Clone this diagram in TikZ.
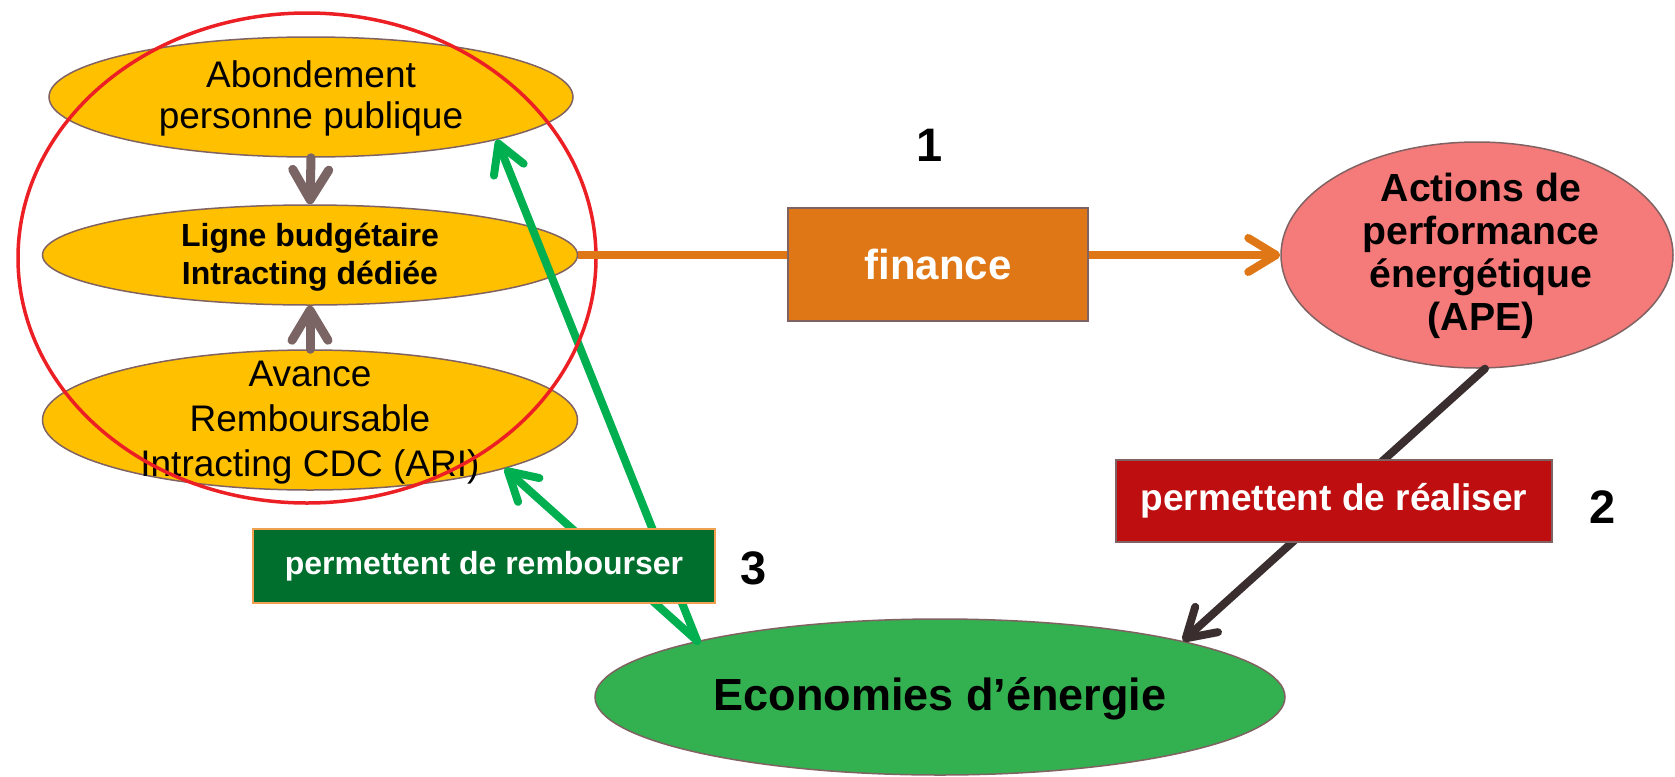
\documentclass[tikz,border=0pt]{standalone}
\usepackage{fontspec}
\setmainfont{Liberation Sans}
\usetikzlibrary{arrows.meta,shapes.geometric}
\definecolor{yel}{RGB}{255,192,0}
\definecolor{ellborder}{RGB}{128,98,98}
\definecolor{grayarr}{RGB}{122,100,100}
\definecolor{orangec}{RGB}{224,119,22}
\definecolor{salmon}{RGB}{245,122,122}
\definecolor{darkarr}{RGB}{58,46,46}
\definecolor{redbox}{RGB}{190,14,16}
\definecolor{greenell}{RGB}{51,176,79}
\definecolor{greenarr}{RGB}{0,176,80}
\definecolor{greenbox}{RGB}{0,110,44}
\definecolor{greenboxborder}{RGB}{240,160,80}
\definecolor{redring}{RGB}{236,32,36}
\tikzset{
  ell/.style={ellipse, draw=ellborder, line width=0.75pt, inner sep=0pt},
  yelell/.style={ell, fill=yel},
  txt/.style={align=center, inner sep=0pt, text=black},
  grayarrow/.style={draw=grayarr, line width=4.5pt, line cap=round,
    -{Straight Barb[length=15pt,width=18pt,round]}},
  orangeline/.style={draw=orangec, line width=4pt,
    -{Straight Barb[length=14pt,width=17pt,round]}},
  greenline/.style={draw=greenarr, line width=4pt, line cap=round,
    -{Straight Barb[length=14pt,width=16pt,round]}},
  darkline/.style={draw=darkarr, line width=4pt, line cap=round,
    -{Straight Barb[length=14pt,width=17pt,round]}},
  numlabel/.style={font=\fontsize{23.5}{26}\selectfont\bfseries, inner sep=0pt},
}
\begin{document}
\begin{tikzpicture}[x=0.5pt,y=-0.5pt]
\useasboundingbox (0,0) rectangle (1675,776);
% left column ellipses
\node[yelell, minimum width=262pt, minimum height=60pt] (abo) at (311,97) {};
\node[yelell, minimum width=267.5pt, minimum height=50pt] (lig) at (310,255) {};
\node[yelell, minimum width=267.5pt, minimum height=70pt] (ava) at (310,420) {};
\node[txt, font=\fontsize{18.5}{20.5}\selectfont] (aboT) at (311,98) {Abondement\\personne publique};
\node[txt, font=\fontsize{16}{19}\selectfont\bfseries] (ligT) at (310,257) {Ligne budgétaire\\Intracting dédiée};
\node[txt, font=\fontsize{18.5}{22.5}\selectfont] (avaT) at (310,423) {Avance\\Remboursable\\Intracting CDC (ARI)};
% gray arrows
\draw[grayarrow] (abo.south) -- (lig.north);
\draw[grayarrow] (ava.north) -- (lig.south);
% right ellipses
\node[ell, fill=salmon, minimum width=196pt, minimum height=113pt] (ape) at (1477,255) {};
\node[txt, font=\fontsize{19.6}{21.5}\selectfont\bfseries] (apeT) at (1481,256) {Actions de\\performance\\énergétique\\(APE)};
\node[ell, fill=greenell, minimum width=345pt, minimum height=78pt] (eco) at (940,697) {};
\node[txt, font=\fontsize{22.5}{25}\selectfont\bfseries] (ecoT) at (940,699) {Economies d’énergie};
% green arrows
\draw[greenline] (eco.167) -- (abo.-13);
\draw[greenline] (eco.167) -- (ava.-14.3);
% red ring
\node[ellipse, draw=redring, line width=1.75pt, inner sep=0pt, minimum width=289pt, minimum height=245pt] (ring) at (307,258) {};
% orange connector and finance box
\draw[orangeline] (lig.east) -- (ape.west);
\node[draw=ellborder, line width=0.75pt, fill=orangec, minimum width=150pt, minimum height=56.5pt, inner sep=0pt,
  text=white, font=\fontsize{21}{24}\selectfont\bfseries] (fin) at (938,264.5) {finance};
% dark arrow and red box
\draw[darkline] (ape.-86) -- (eco.13);
\node[draw=ellborder, line width=0.75pt, fill=redbox, minimum width=218pt, minimum height=41pt, inner sep=0pt,
  text=white, font=\fontsize{18.5}{21}\selectfont\bfseries] (rea) at (1334,501) {permettent de réaliser};
% green box
\node[draw=greenboxborder, line width=1pt, fill=greenbox, minimum width=231pt, minimum height=37pt, inner sep=0pt,
  text=white, font=\fontsize{16}{19}\selectfont\bfseries] (rem) at (484,566) {permettent de rembourser};
% numbers
\node[numlabel] (n1) at (930,145) {1};
\node[numlabel] (n2) at (1603,507) {2};
\node[numlabel] (n3) at (754,568) {3};
\end{tikzpicture}
\end{document}
